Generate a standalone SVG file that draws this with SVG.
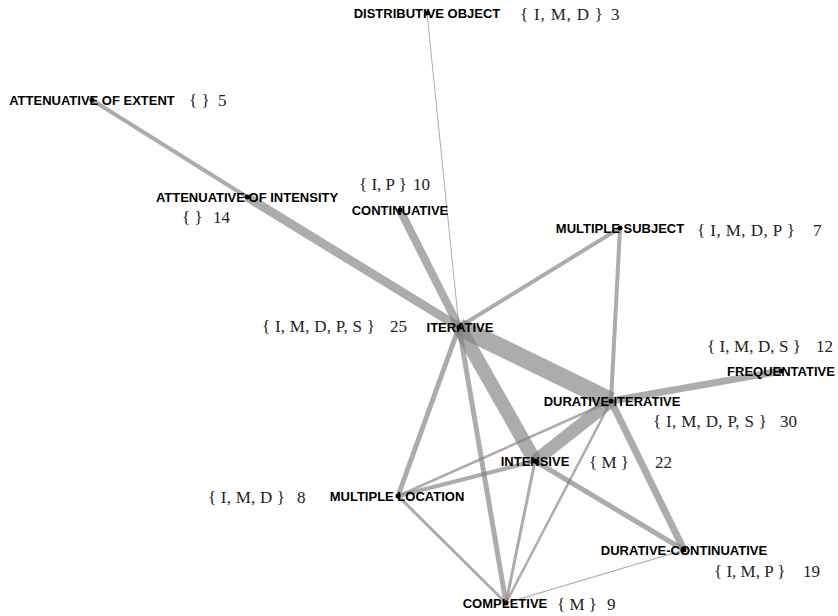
<svg xmlns="http://www.w3.org/2000/svg" width="838" height="616" viewBox="0 0 838 616">
<style>
.e{stroke:#7f7f7f;stroke-opacity:0.65;stroke-linecap:butt;fill:none}
.lb{font-family:"Liberation Sans",Arial,sans-serif;font-weight:bold;font-size:13px;fill:#000;text-anchor:middle}
.an{font-family:"Liberation Serif","Times New Roman",serif;font-size:17px;fill:#222}
.d{fill:#000}
</style>
<rect width="838" height="616" fill="#fff"/>
<g id="connectors">
<line class="e" x1="427" y1="13" x2="459" y2="327" stroke-width="1"/>
<line class="e" x1="92" y1="100" x2="247" y2="197" stroke-width="4"/>
<line class="e" x1="247" y1="197" x2="459" y2="327" stroke-width="9"/>
<line class="e" x1="400" y1="210" x2="459" y2="327" stroke-width="8"/>
<line class="e" x1="620" y1="228" x2="459" y2="327" stroke-width="4"/>
<line class="e" x1="620" y1="228" x2="611" y2="401" stroke-width="4"/>
<line class="e" x1="459" y1="327" x2="611" y2="401" stroke-width="18"/>
<line class="e" x1="459" y1="327" x2="535" y2="461" stroke-width="14"/>
<line class="e" x1="459" y1="327" x2="398" y2="496" stroke-width="5"/>
<line class="e" x1="459" y1="327" x2="506" y2="603" stroke-width="5"/>
<line class="e" x1="781" y1="371" x2="611" y2="401" stroke-width="7"/>
<line class="e" x1="611" y1="401" x2="535" y2="461" stroke-width="13"/>
<line class="e" x1="611" y1="401" x2="684" y2="550" stroke-width="7"/>
<line class="e" x1="611" y1="401" x2="398" y2="496" stroke-width="2.5"/>
<line class="e" x1="611" y1="401" x2="506" y2="603" stroke-width="2.5"/>
<line class="e" x1="535" y1="461" x2="398" y2="496" stroke-width="4"/>
<line class="e" x1="535" y1="461" x2="684" y2="550" stroke-width="5"/>
<line class="e" x1="535" y1="461" x2="506" y2="603" stroke-width="3"/>
<line class="e" x1="398" y1="496" x2="506" y2="603" stroke-width="3"/>
<line class="e" x1="684" y1="550" x2="506" y2="603" stroke-width="1.2"/>
</g>
<g id="distributive-object"><circle class="d" cx="427" cy="13" r="2.5"/><text class="lb" x="427" y="18">DISTRIBUTIVE OBJECT</text><text class="an" y="20"><tspan x="520" textLength="83" lengthAdjust="spacing">{ I, M, D }</tspan><tspan x="611">3</tspan></text></g>
<g id="attenuative-of-extent"><circle class="d" cx="92" cy="100" r="2.5"/><text class="lb" x="92" y="105">ATTENUATIVE OF EXTENT</text><text class="an" y="106"><tspan x="189">{ }</tspan><tspan x="218">5</tspan></text></g>
<g id="attenuative-of-intensity"><circle class="d" cx="247" cy="197" r="2.5"/><text class="lb" x="247" y="202">ATTENUATIVE OF INTENSITY</text><text class="an" y="223"><tspan x="182">{ }</tspan><tspan x="213">14</tspan></text></g>
<g id="continuative"><circle class="d" cx="400" cy="210" r="2.5"/><text class="lb" x="400" y="215">CONTINUATIVE</text><text class="an" y="190"><tspan x="359">{ I, P }</tspan><tspan x="413">10</tspan></text></g>
<g id="multiple-subject"><circle class="d" cx="620" cy="228" r="2.5"/><text class="lb" x="620" y="233">MULTIPLE SUBJECT</text><text class="an" y="236"><tspan x="697" textLength="98" lengthAdjust="spacing">{ I, M, D, P }</tspan><tspan x="813">7</tspan></text></g>
<g id="iterative"><circle class="d" cx="459" cy="327" r="2.5"/><text class="lb" x="460" y="332">ITERATIVE</text><text class="an" y="332"><tspan x="262" textLength="113" lengthAdjust="spacing">{ I, M, D, P, S }</tspan><tspan x="390">25</tspan></text></g>
<g id="frequentative"><circle class="d" cx="781" cy="371" r="2.5"/><text class="lb" x="781" y="376">FREQUENTATIVE</text><text class="an" y="352"><tspan x="707" textLength="94" lengthAdjust="spacing">{ I, M, D, S }</tspan><tspan x="816">12</tspan></text></g>
<g id="durative-iterative"><circle class="d" cx="611" cy="401" r="2.5"/><text class="lb" x="612" y="406">DURATIVE-ITERATIVE</text><text class="an" y="427"><tspan x="653" textLength="114" lengthAdjust="spacing">{ I, M, D, P, S }</tspan><tspan x="780">30</tspan></text></g>
<g id="intensive"><circle class="d" cx="535" cy="461" r="2.5"/><text class="lb" x="535" y="466">INTENSIVE</text><text class="an" y="468"><tspan x="589">{ M }</tspan><tspan x="655">22</tspan></text></g>
<g id="multiple-location"><circle class="d" cx="398" cy="496" r="2.5"/><text class="lb" x="397" y="501">MULTIPLE LOCATION</text><text class="an" y="503"><tspan x="208" textLength="77" lengthAdjust="spacing">{ I, M, D }</tspan><tspan x="297">8</tspan></text></g>
<g id="durative-continuative"><circle class="d" cx="684" cy="550" r="2.5"/><text class="lb" x="684" y="555">DURATIVE-CONTINUATIVE</text><text class="an" y="577"><tspan x="714">{ I, M, P }</tspan><tspan x="803">19</tspan></text></g>
<g id="completive"><circle class="d" cx="506" cy="603" r="2.5"/><text class="lb" x="505" y="608">COMPLETIVE</text><text class="an" y="610"><tspan x="557">{ M }</tspan><tspan x="607">9</tspan></text></g>
</svg>
